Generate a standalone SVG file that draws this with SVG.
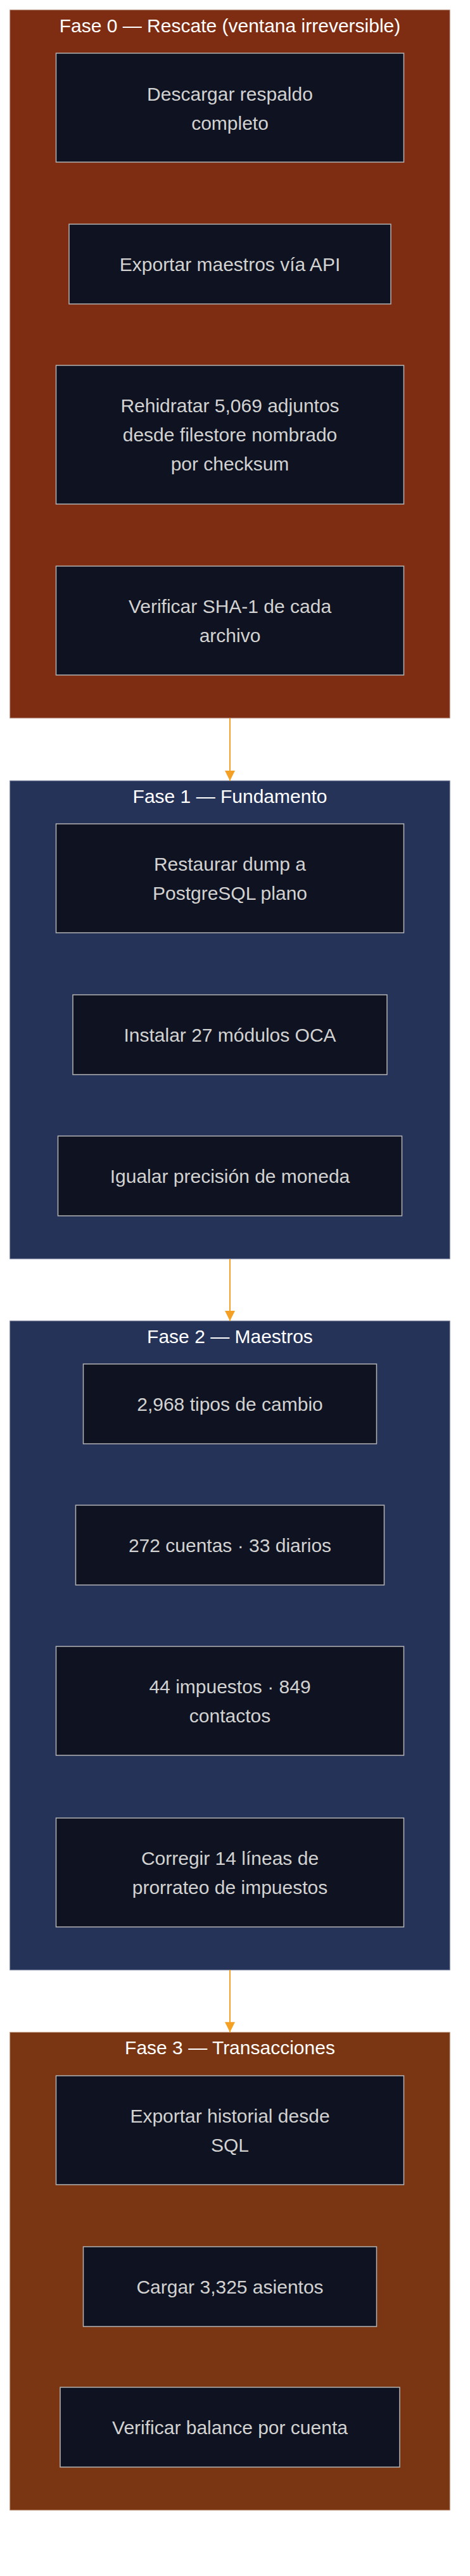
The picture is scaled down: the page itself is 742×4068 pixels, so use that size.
<svg xmlns="http://www.w3.org/2000/svg" width="742" height="4068" viewBox="0 0 742 4068">
<defs>
<style>
.bg{fill:#ffffff}
.c-red{fill:#7e2d13;stroke:#b99488;stroke-width:1}
.c-brown{fill:#7a3612;stroke:#bd9378;stroke-width:1}
.c-blue{fill:#263358;stroke:#7a829e;stroke-width:1}
.title{font-family:"Liberation Sans",Arial,sans-serif;font-size:30px;fill:#ffffff;text-anchor:middle}
.node rect{fill:#0f1220;stroke:#b4b4b4;stroke-width:1.5}
.node text{font-family:"Liberation Sans",Arial,sans-serif;font-size:30px;fill:#d2d2d2;text-anchor:middle}
.edge{stroke:#f4a024;stroke-width:2;fill:none}
</style>
<marker id="arrow" markerUnits="userSpaceOnUse" markerWidth="16" markerHeight="16" refX="16" refY="8" orient="auto">
<path d="M0,0 L16,8 L0,16 z" fill="#f4a024"/>
</marker>
</defs>
<rect class="bg" x="0" y="0" width="742" height="4068"/>

<g id="cluster-fase0">
<rect class="c-red" x="15.7" y="15.7" width="694.5" height="1118.3"/>
<text class="title" x="363" y="50.7">Fase 0 — Rescate (ventana irreversible)</text>
</g>
<g id="cluster-fase1">
<rect class="c-blue" x="15.7" y="1233" width="694.5" height="755"/>
<text class="title" x="363" y="1268">Fase 1 — Fundamento</text>
</g>
<g id="cluster-fase2">
<rect class="c-blue" x="15.7" y="2086" width="694.5" height="1025"/>
<text class="title" x="363" y="2121">Fase 2 — Maestros</text>
</g>
<g id="cluster-fase3">
<rect class="c-brown" x="15.7" y="3209.3" width="694.5" height="754.7"/>
<text class="title" x="363" y="3244">Fase 3 — Transacciones</text>
</g>

<g id="connectors">
<path class="edge" d="M363,1134 L363,1233" marker-end="url(#arrow)"/>
<path class="edge" d="M363,1988 L363,2086" marker-end="url(#arrow)"/>
<path class="edge" d="M363,3111 L363,3209.3" marker-end="url(#arrow)"/>
</g>

<g id="n-descargar" class="node">
<rect x="88.5" y="84" width="549" height="172"/>
<text x="363" y="158.5">Descargar respaldo</text>
<text x="363" y="204.5">completo</text>
</g>
<g id="n-exportar-maestros" class="node">
<rect x="109" y="354" width="508" height="126"/>
<text x="363" y="427.5">Exportar maestros vía API</text>
</g>
<g id="n-rehidratar" class="node">
<rect x="88.5" y="577" width="549" height="219"/>
<text x="363" y="651">Rehidratar 5,069 adjuntos</text>
<text x="363" y="697">desde filestore nombrado</text>
<text x="363" y="743">por checksum</text>
</g>
<g id="n-verificar-sha" class="node">
<rect x="88.5" y="894" width="549" height="172"/>
<text x="363" y="967.5">Verificar SHA-1 de cada</text>
<text x="363" y="1013.5">archivo</text>
</g>

<g id="n-restaurar" class="node">
<rect x="88.5" y="1301" width="549" height="172"/>
<text x="363" y="1374.5">Restaurar dump a</text>
<text x="363" y="1420.5">PostgreSQL plano</text>
</g>
<g id="n-instalar" class="node">
<rect x="115" y="1571" width="496" height="126"/>
<text x="363" y="1644.5">Instalar 27 módulos OCA</text>
</g>
<g id="n-igualar" class="node">
<rect x="91.5" y="1794" width="543" height="126"/>
<text x="363" y="1867.5">Igualar precisión de moneda</text>
</g>

<g id="n-tipos-cambio" class="node">
<rect x="131.5" y="2154" width="463" height="126"/>
<text x="363" y="2227.5">2,968 tipos de cambio</text>
</g>
<g id="n-cuentas" class="node">
<rect x="119.5" y="2377" width="487" height="126"/>
<text x="363" y="2450.5">272 cuentas · 33 diarios</text>
</g>
<g id="n-impuestos" class="node">
<rect x="88.5" y="2600" width="549" height="172"/>
<text x="363" y="2673.5">44 impuestos · 849</text>
<text x="363" y="2719.5">contactos</text>
</g>
<g id="n-corregir" class="node">
<rect x="88.5" y="2871" width="549" height="172"/>
<text x="363" y="2944.5">Corregir 14 líneas de</text>
<text x="363" y="2990.5">prorrateo de impuestos</text>
</g>

<g id="n-exportar-historial" class="node">
<rect x="88.5" y="3278" width="549" height="172"/>
<text x="363" y="3351.5">Exportar historial desde</text>
<text x="363" y="3397.5">SQL</text>
</g>
<g id="n-cargar" class="node">
<rect x="131.5" y="3548" width="463" height="126"/>
<text x="363" y="3621.5">Cargar 3,325 asientos</text>
</g>
<g id="n-verificar-balance" class="node">
<rect x="95" y="3770" width="536" height="126"/>
<text x="363" y="3843.5">Verificar balance por cuenta</text>
</g>
</svg>
